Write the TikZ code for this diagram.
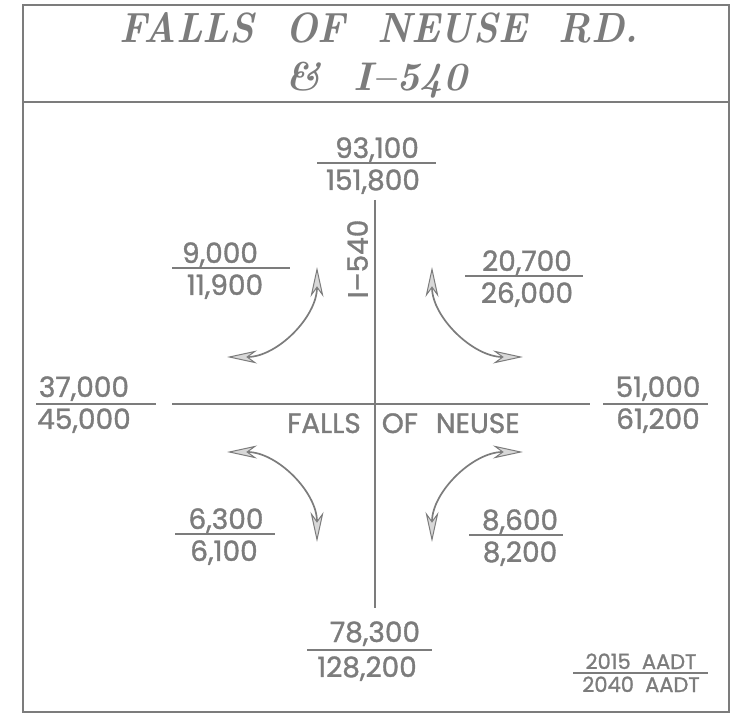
\documentclass[tikz,border=0pt]{standalone}
\usepackage{graphicx}
\usepackage{fontspec}
\newfontfamily\roadfont{Poppins}[UprightFeatures={FakeBold=1.2}]
\usetikzlibrary{arrows.meta}
\definecolor{ink}{HTML}{7C7C7C}
\definecolor{tipfill}{HTML}{D8D8D8}

\begin{document}
\begin{tikzpicture}[x=1pt,y=-1pt,
  frame/.style={draw=ink,line width=2.6pt},
  road/.style={draw=ink,line width=2pt},
  bar/.style={draw=ink,line width=1.8pt},
  heading/.style={inner sep=0pt,anchor=base,text=ink,font=\bfseries\itshape},
  num/.style={inner sep=0pt,anchor=base,text=ink,font=\roadfont\fontsize{28}{28}\selectfont},
  roadname/.style={num},
  legendtext/.style={num,font=\roadfont\fontsize{21}{21}\selectfont},
  turn/.style={draw=ink,line width=1.7pt,{Stealth[length=30pt,width=13pt,inset=9pt,fill=tipfill,line width=1pt]}-{Stealth[length=30pt,width=13pt,inset=9pt,fill=tipfill,line width=1pt]}}
]
\path[use as bounding box] (0,0) rectangle (732,719);

% outer frame and title panel
\draw[frame] (23,5) rectangle (729,712);
\draw[frame] (23,102) -- (729,102);
\node[heading] (title1) at (379,43) {\resizebox{518pt}{30pt}{FALLS\ \ OF\ \ NEUSE\ \ RD.}};
\node[heading,anchor=base west] (title2) at (285,91) {\resizebox{182pt}{!}{\&\ \ I--540}};

% the two roads
\coordinate (nN) at (375,200);
\coordinate (nS) at (375,608);
\coordinate (nW) at (172,404);
\coordinate (nE) at (590,404);
\draw[road] (nN) -- (nS);
\draw[road] (nW) -- (nE);
\node[roadname,rotate=90,anchor=center] (i540) at (357.5,259) {I–540};
\node[roadname,anchor=base west] (falls) at (287,433) {FALLS\hspace{21pt}OF\hspace{18pt}NEUSE};

% turning movements
\coordinate (ulA) at (317,267); \coordinate (ulB) at (227,357);
\coordinate (urA) at (432,267); \coordinate (urB) at (523,357);
\coordinate (llA) at (227,452); \coordinate (llB) at (317,542);
\coordinate (lrA) at (523,452); \coordinate (lrB) at (432,542);
\draw[turn] (ulA) .. controls (317,317) and (277,357) .. (ulB);
\draw[turn] (urA) .. controls (432,317) and (473,357) .. (urB);
\draw[turn] (llA) .. controls (277,452) and (317,492) .. (llB);
\draw[turn] (lrA) .. controls (473,452) and (432,492) .. (lrB);

% volume fractions: 2015 over 2040
% north
\coordinate (nL) at (317,163); \coordinate (nR) at (436,163);
\draw[bar] (nL) -- (nR);
\node[num] (n15) at (377,158) {93,100};
\node[num] (n40) at (373,190) {151,800};
% upper left
\coordinate (aL) at (172,268); \coordinate (aR) at (290,268);
\draw[bar] (aL) -- (aR);
\node[num] (a15) at (220,263) {9,000};
\node[num] (a40) at (225,295) {11,900};
% upper right
\coordinate (bL) at (465,276); \coordinate (bR) at (583,276);
\draw[bar] (bL) -- (bR);
\node[num] (b15) at (527,271) {20,700};
\node[num] (b40) at (527,303) {26,000};
% west
\coordinate (wL) at (36,404); \coordinate (wR) at (156,404);
\draw[bar] (wL) -- (wR);
\node[num] (w15) at (84,397) {37,000};
\node[num] (w40) at (84,429) {45,000};
% east
\coordinate (eL) at (603,404); \coordinate (eR) at (708,404);
\draw[bar] (eL) -- (eR);
\node[num] (e15) at (658,397) {51,000};
\node[num] (e40) at (658,429) {61,200};
% lower left
\coordinate (cL) at (175,534); \coordinate (cR) at (275,534);
\draw[bar] (cL) -- (cR);
\node[num] (c15) at (226,529) {6,300};
\node[num] (c40) at (224,561) {6,100};
% lower right
\coordinate (dL) at (469,535); \coordinate (dR) at (563,535);
\draw[bar] (dL) -- (dR);
\node[num] (d15) at (520,530) {8,600};
\node[num] (d40) at (520,562) {8,200};
% south
\coordinate (sL) at (307,650); \coordinate (sR) at (432,650);
\draw[bar] (sL) -- (sR);
\node[num] (s15) at (375,642) {78,300};
\node[num] (s40) at (367,677) {128,200};

% legend
\coordinate (kL) at (573,673); \coordinate (kR) at (708,673);
\draw[bar] (kL) -- (kR);
\node[legendtext] (k15) at (641,669) {2015\ \ AADT};
\node[legendtext] (k40) at (641,692) {2040\ \ AADT};
\end{tikzpicture}
\end{document}
